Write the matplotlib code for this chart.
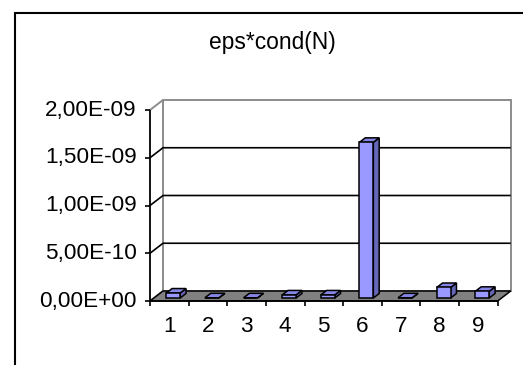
import matplotlib
matplotlib.use("Agg")
import matplotlib.pyplot as plt
from matplotlib.patches import Polygon, Rectangle
from matplotlib.lines import Line2D
from matplotlib.transforms import IdentityTransform

# Chart data
categories = ["1", "2", "3", "4", "5", "6", "7", "8", "9"]
values = [5.2e-11, 2e-12, 2e-12, 3.2e-11, 3.2e-11, 1.63e-9, 2e-12, 1.1e-10, 7e-11]
y_ticks = [0.0, 5e-10, 1e-9, 1.5e-9, 2e-9]
y_tick_labels = ["0,00E+00", "5,00E-10", "1,00E-09", "1,50E-09", "2,00E-09"]
title = "eps*cond(N)"

plt.rcParams["font.family"] = ["Liberation Sans", "DejaVu Sans"]

W, H = 523, 365
fig = plt.figure(figsize=(W / 100, H / 100), dpi=100)
fig.patch.set_facecolor("white")

# Front plane of the 3-D box
ax = fig.add_axes([150 / W, (H - 301) / H, (497.7 - 150) / W, (301 - 110) / H])
n = len(categories)
ymax = y_ticks[-1]
ax.set_xlim(0.5, n + 0.5)
ax.set_ylim(0, ymax)
ax.axis("off")

DEPTH = (13.0, 10.0)  # pixel offset of the back wall relative to the front plane
ID = IdentityTransform()


def pt(x, y, d):
    px, py = ax.transData.transform((x, y))
    return (px + DEPTH[0] * d, py + DEPTH[1] * d)


def face(points, fc, ec, lw=1.0, z=1):
    ax.add_patch(Polygon(points, closed=True, transform=ID, clip_on=False,
                         facecolor=fc, edgecolor=ec, linewidth=lw, zorder=z,
                         joinstyle="miter"))


def seg(points, color="black", lw=1.0, z=3):
    xs = [p[0] for p in points]
    ys = [p[1] for p in points]
    ax.add_line(Line2D(xs, ys, transform=ID, clip_on=False, color=color,
                       linewidth=lw, zorder=z, solid_capstyle="butt"))


x0, x1 = 0.5, n + 0.5
wall_edge = "#8c8c8c"

# Back wall and left side wall
face([pt(x0, 0, 1), pt(x1, 0, 1), pt(x1, ymax, 1), pt(x0, ymax, 1)], "white", wall_edge, 1.4, 1)
face([pt(x0, 0, 0), pt(x0, 0, 1), pt(x0, ymax, 1), pt(x0, ymax, 0)], "white", wall_edge, 1.4, 1)

# Gridlines across side wall and back wall
for yt in y_ticks[1:-1]:
    seg([pt(x0, yt, 0), pt(x0, yt, 1), pt(x1, yt, 1)], "black", 1.2, 2)

# Floor
face([pt(x0, 0, 0), pt(x1, 0, 0), pt(x1, 0, 1), pt(x0, 0, 1)], "#808080", "black", 1.1, 2)

# Columns
bw = 0.36
d0, d1 = 0.3, 0.75
for i, v in enumerate(values):
    xc = i + 1
    l, r = xc - bw / 2, xc + bw / 2
    face([pt(r, 0, d0), pt(r, 0, d1), pt(r, v, d1), pt(r, v, d0)], "#6666b8", "black", 1.1, 4)
    face([pt(l, v, d0), pt(r, v, d0), pt(r, v, d1), pt(l, v, d1)], "#8585e6", "black", 1.1, 4)
    face([pt(l, 0, d0), pt(r, 0, d0), pt(r, v, d0), pt(l, v, d0)], "#9999ff", "black", 1.1, 5)

# Value axis on the front plane
seg([pt(x0, 0, 0), pt(x0, ymax, 0)], "black", 1.2, 6)
for yt, lab in zip(y_ticks, y_tick_labels):
    px, py = pt(x0, yt, 0)
    seg([(px - 5, py), (px, py)], "black", 1.2, 6)
    ax.text(px - 13, py, lab, transform=ID, ha="right", va="center",
            fontsize=16.2, color="black")

# Category axis along the front edge of the floor
seg([pt(x0, 0, 0), pt(x1, 0, 0)], "black", 1.2, 6)
for k in range(n + 1):
    px, py = pt(x0 + k, 0, 0)
    seg([(px, py), (px, py - 5)], "black", 1.2, 6)
for i, lab in enumerate(categories):
    px, py = pt(i + 1, 0, 0)
    ax.text(px, py - 25, lab, transform=ID, ha="center", va="center",
            fontsize=16.2, color="black")

# Title
fig.text(272 / W, 1 - 43 / H, title, ha="center", va="center", fontsize=16.4, color="black")

# Chart area border
fig.add_artist(Rectangle((15, -20), 700, (H - 13) + 20, transform=ID, fill=False,
                         edgecolor="black", linewidth=1.5, clip_on=False))

fig.savefig("out.png", dpi=100)
